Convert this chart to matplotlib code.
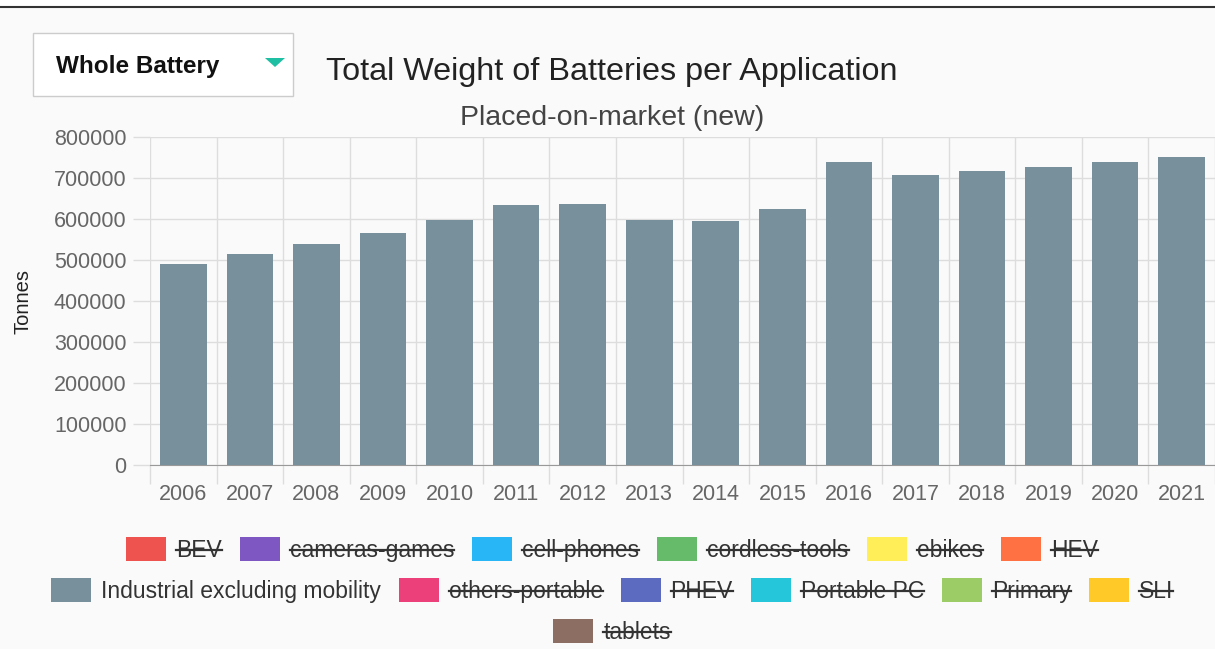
import numpy as np
import matplotlib
matplotlib.use("Agg")
import matplotlib.pyplot as plt
from matplotlib.patches import Rectangle, Polygon
from matplotlib.lines import Line2D

plt.rcParams['font.family'] = ['Liberation Sans', 'DejaVu Sans']

# data (tonnes)
years = ['2006', '2007', '2008', '2009', '2010', '2011', '2012', '2013',
         '2014', '2015', '2016', '2017', '2018', '2019', '2020', '2021']
industrial = [490000, 514000, 540000, 566000, 598000, 634000, 636000, 598000,
              596000, 625000, 738000, 707000, 717000, 728000, 738000, 750000]

legend_names = ['BEV', 'cameras-games', 'cell-phones', 'cordless-tools', 'ebikes', 'HEV',
                'Industrial excluding mobility', 'others-portable', 'PHEV', 'Portable PC',
                'Primary', 'SLI', 'tablets']
legend_colors = ['#ef5350', '#7e57c2', '#29b6f6', '#66bb6a', '#ffee58', '#ff7043',
                 '#78909c', '#ec407a', '#5c6bc0', '#26c6da', '#9ccc65', '#ffca28', '#8d6e63']
legend_hidden = [True, True, True, True, True, True,
                 False, True, True, True, True, True, True]
legend_rows = [[0, 1, 2, 3, 4, 5], [6, 7, 8, 9, 10, 11], [12]]

W, H = 1215, 649
fig = plt.figure(figsize=(W / 100, H / 100), dpi=100)
fig.patch.set_facecolor('#fafafa')

def fx(px):
    return px / W

def fy(py):
    return 1 - py / H

# top strip and dark rule
fig.patches.append(Rectangle((0, fy(7)), 1, 7 / H, transform=fig.transFigure,
                             facecolor='white', edgecolor='none'))
fig.lines.append(Line2D([0, 1], [fy(7), fy(7)], transform=fig.transFigure,
                        color='#333333', lw=1.5))

# dropdown box
fig.patches.append(Rectangle((fx(33), fy(96)), fx(293) - fx(33), fy(33) - fy(96),
                             transform=fig.transFigure, facecolor='white',
                             edgecolor='#cccccc', lw=1))
fig.text(fx(56), fy(67), 'Whole Battery', fontsize=17.5, fontweight='heavy',
         color='#111111', va='center', ha='left')
fig.patches.append(Polygon([(fx(265), fy(58)), (fx(285), fy(58)), (fx(275), fy(67))],
                           closed=True, transform=fig.transFigure,
                           facecolor='#1fbfa4', edgecolor='none'))

fig.text(fx(612), fy(72), 'Total Weight of Batteries per Application', fontsize=23.3,
         color='#222222', ha='center', va='center')
fig.text(fx(612), fy(118), 'Placed-on-market (new)', fontsize=20.5,
         color='#444444', ha='center', va='center')

# axes
ax = fig.add_axes([fx(150), fy(465), fx(1215) - fx(150), fy(137) - fy(465)])
ax.set_facecolor('#fafafa')
x = np.arange(len(years))
ax.bar(x, industrial, width=0.7, color='#78909c', zorder=3)
ax.set_xlim(-0.5, len(years) - 0.5)
ax.set_ylim(0, 800000)
ax.set_yticks(np.arange(0, 800001, 100000))
ax.set_yticklabels([str(v) for v in range(0, 800001, 100000)])
ax.set_xticks(x)
ax.set_xticklabels(years)
ax.set_xticks(np.arange(-0.5, len(years), 1), minor=True)
ax.tick_params(axis='x', which='major', length=0, pad=14, labelsize=15.5, labelcolor='#666666')
ax.tick_params(axis='x', which='minor', length=14, color='#dddddd', width=1)
ax.tick_params(axis='y', length=12, color='#dddddd', width=1, pad=5,
               labelsize=15.5, labelcolor='#666666')
ax.grid(True, axis='y', color='#dddddd', lw=1, zorder=0)
ax.grid(True, axis='x', which='minor', color='#dddddd', lw=1, zorder=0)
for s in ['top', 'right', 'left']:
    ax.spines[s].set_visible(False)
ax.spines['bottom'].set_color('#999999')
ax.set_ylabel('Tonnes', fontsize=14.5, color='#222222')
ax.yaxis.set_label_coords(-(150 - 23) / (1215 - 150), 0.5)
ax.yaxis.label.set_va('center')

# legend drawn by hand so hidden series can be struck through
renderer = fig.canvas.get_renderer()
leg_fs = 16.5
row_y = [549, 590, 631]
sw_w, sw_h, gap_in, gap_out = 40, 24, 10, 18
center = 612
for r, items in enumerate(legend_rows):
    texts = []
    widths = []
    for i in items:
        t = fig.text(0, 0, legend_names[i], fontsize=leg_fs, color='#333333',
                     ha='left', va='baseline')
        bb = t.get_window_extent(renderer)
        texts.append(t)
        widths.append(bb.width)
    total = sum(sw_w + gap_in + w for w in widths) + gap_out * (len(items) - 1)
    cx = center - total / 2
    yc = row_y[r]
    for t, w, i in zip(texts, widths, items):
        fig.patches.append(Rectangle((fx(cx), fy(yc + sw_h / 2)), sw_w / W, sw_h / H,
                                     transform=fig.transFigure,
                                     facecolor=legend_colors[i], edgecolor='none'))
        tx = cx + sw_w + gap_in
        base = yc + 8
        t.set_position((fx(tx), fy(base)))
        if legend_hidden[i]:
            sy = base - 0.3 * leg_fs * 100 / 72
            fig.lines.append(Line2D([fx(tx), fx(tx + w)], [fy(sy), fy(sy)],
                                    transform=fig.transFigure, color='#333333', lw=1.6))
        cx = tx + w + gap_out

fig.savefig('out.png', dpi=100, facecolor=fig.get_facecolor())
